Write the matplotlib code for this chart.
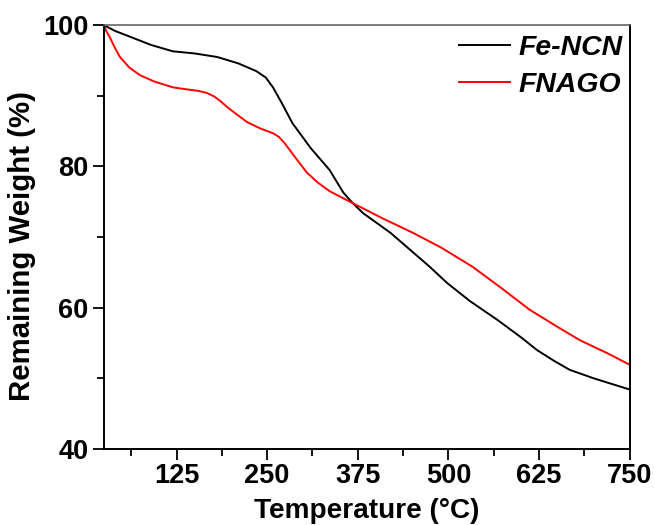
import numpy as np
import matplotlib
matplotlib.use('Agg')
import matplotlib.pyplot as plt
from matplotlib.ticker import MultipleLocator

# TGA curves
temp_fencn = [25, 40, 65, 90, 120, 150, 181, 210, 235, 248, 258, 270, 285, 310, 336,
              355, 368, 382, 420, 474, 498, 530, 567, 600, 622, 645, 667, 700, 750]
wt_fencn = [100, 99.2, 98.2, 97.2, 96.3, 96.0, 95.5, 94.6, 93.5, 92.6, 91.2, 89.0, 86.1,
            82.6, 79.5, 76.3, 74.8, 73.4, 70.6, 65.8, 63.5, 60.9, 58.3, 55.8, 54.0,
            52.5, 51.2, 50.0, 48.4]

temp_fnago = [25, 28, 33, 40, 47, 60, 75, 95, 120, 140, 155, 167, 177, 185, 195, 205,
              222, 240, 258, 266, 274, 282, 290, 305, 320, 336, 368, 410, 451, 490,
              533, 570, 612, 650, 681, 720, 750]
wt_fnago = [100, 99.2, 98.3, 96.8, 95.5, 94.0, 92.9, 92.0, 91.2, 90.9, 90.7, 90.4,
            89.9, 89.3, 88.4, 87.6, 86.3, 85.4, 84.7, 84.2, 83.3, 82.2, 81.1, 79.1,
            77.7, 76.5, 74.8, 72.6, 70.6, 68.5, 65.8, 63.0, 59.7, 57.3, 55.4, 53.5, 51.9]

plt.rcParams['font.family'] = ['Liberation Sans', 'DejaVu Sans']
plt.rcParams['font.weight'] = 'bold'

fig = plt.figure(figsize=(6.54, 5.25), dpi=100)
ax = fig.add_axes([0.159, 0.145, 0.804, 0.807])

ax.plot(temp_fencn, wt_fencn, color='black', lw=1.4, label='Fe-NCN')
ax.plot(temp_fnago, wt_fnago, color='red', lw=1.4, label='FNAGO')

ax.set_xlim(25, 750)
ax.set_ylim(40, 100)
ax.xaxis.set_major_locator(MultipleLocator(125))
ax.xaxis.set_minor_locator(MultipleLocator(62.5))
ax.yaxis.set_major_locator(MultipleLocator(20))
ax.yaxis.set_minor_locator(MultipleLocator(10))
ax.tick_params(which='major', direction='out', length=8, width=1.3, labelsize=19.5)
ax.tick_params(axis='y', which='major', pad=3)
ax.tick_params(axis='x', which='major', pad=2)
ax.tick_params(which='minor', direction='out', length=5, width=1.3)
ax.tick_params(top=False, right=False, which='both')
for lab in ax.get_xticklabels() + ax.get_yticklabels():
    lab.set_fontweight('bold')

for s in ['left', 'bottom', 'right']:
    ax.spines[s].set_linewidth(1.4)
ax.spines['top'].set_color('0.4')
ax.spines['top'].set_linewidth(1.2)

ax.set_xlabel('Temperature (°C)', fontsize=20.2, fontweight='bold', va='center')
ax.set_ylabel('Remaining Weight (%)', fontsize=21.2, fontweight='bold', va='center')
ax.xaxis.set_label_coords(0.5, -0.146)
ax.yaxis.set_label_coords(-0.156, 0.48)

leg = ax.legend(loc='upper right', frameon=False, handlelength=1.8,
                handletextpad=0.3, prop={'size': 20.4, 'weight': 'bold', 'style': 'italic'},
                bbox_to_anchor=(0.998, 0.99), borderaxespad=0.0, borderpad=0.2,
                labelspacing=0.38)

fig.savefig('out.png', dpi=100)
